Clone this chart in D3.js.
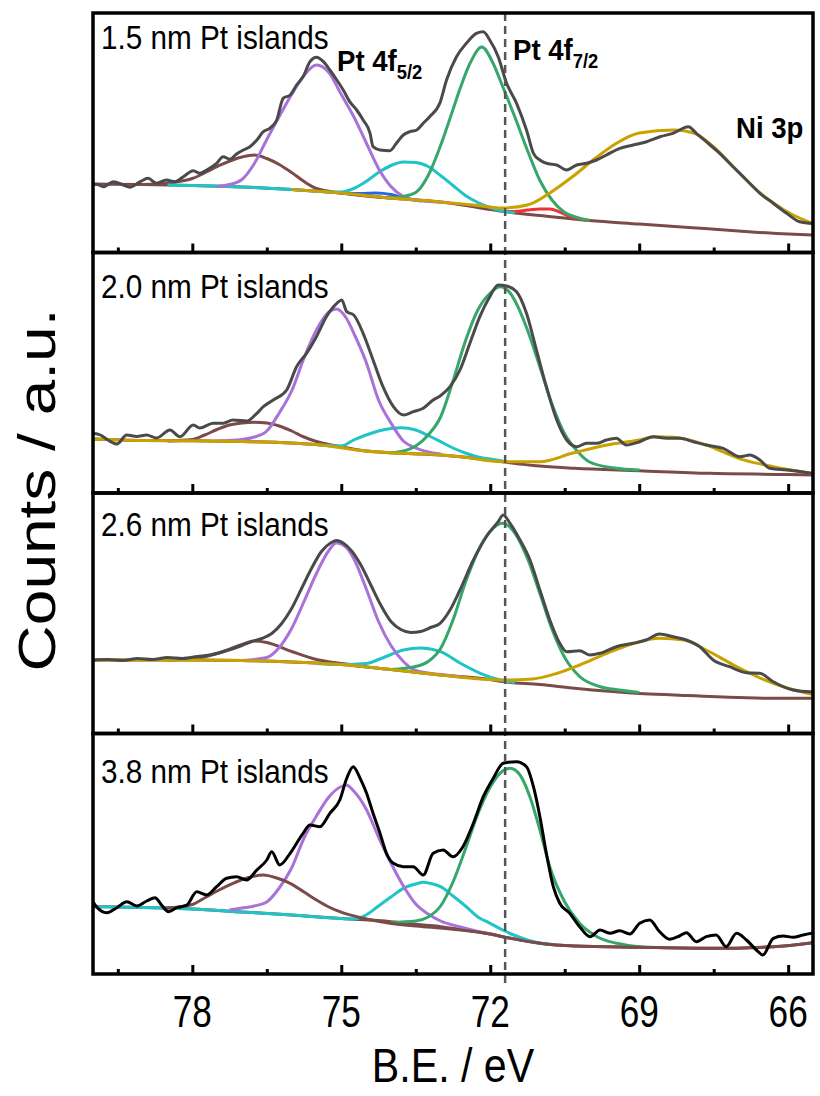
<!DOCTYPE html>
<html>
<head>
<meta charset="utf-8">
<script src="https://cdn.jsdelivr.net/npm/d3@7/dist/d3.min.js"></script>
<style>
  body { margin: 0; background: #fff; }
  svg text { font-family: "Liberation Sans", Arial, sans-serif; fill: #000; }
</style>
</head>
<body>
<div id="chart"></div>
<script>
// ---- data (binding energy in eV, counts in a.u.) ----
var xTicks = [78, 75, 72, 69, 66];
var xMinor = [79.5, 76.5, 73.5, 70.5, 67.5];
var panelLabels = ["1.5 nm Pt islands", "2.0 nm Pt islands", "2.6 nm Pt islands", "3.8 nm Pt islands"];
var refLine = 71.7;

// 1.5 nm
var p1Exp = [[80,68],[79.93,68.2],[79.79,65.8],[79.59,70.8],[79.39,67.5],[79.26,65.2],[79.05,70.8],[78.89,74.2],[78.72,69.2],[78.52,72.5],[78.35,70.8],[78.18,75.8],[77.98,81.8],[77.85,79.2],[77.71,82.5],[77.51,89.2],[77.38,95.8],[77.24,93.2],[77.11,98.5],[76.97,102.5],[76.84,105.8],[76.70,112.5],[76.57,120.8],[76.44,124.2],[76.30,132.5],[76.17,154.2],[76.03,157.5],[75.90,167.5],[75.77,175.8],[75.63,190.8],[75.50,195.2],[75.36,190.8],[75.23,182.5],[75.09,172.5],[74.96,162.5],[74.83,150.8],[74.69,142.5],[74.56,132.5],[74.42,119.2],[74.36,105.8],[74.22,102.5],[74.02,101.8],[73.89,109.2],[73.75,117.5],[73.62,120.8],[73.48,122.5],[73.35,129.2],[73.22,135.8],[73.01,150],[72.88,172.5],[72.68,195.8],[72.48,209.2],[72.28,219.2],[72.14,220.8],[72.01,212.5],[71.84,195.8],[71.67,169.2],[71.47,149.2],[71.27,122.5],[71.13,99.2],[71.0,92.5],[70.87,89.2],[70.66,87.5],[70.46,82.5],[70.26,87.5],[70.06,89.2],[69.86,92.5],[69.66,97.5],[69.39,104.2],[69.12,107.5],[68.85,110.8],[68.58,115.8],[68.32,119.2],[68.01,125.8],[67.85,119.2],[67.65,110.8],[67.38,99.2],[67.11,85.8],[66.84,72.5],[66.57,59.2],[66.30,49.2],[66.03,39.2],[65.77,30.8],[65.5,29]];
var p1Bg = [[80,68.5],[79,68],[78,67],[77,65.5],[76,63],[75,59.5],[74,54.5],[73,50.5],[72.5,47],[72,43],[71.5,39.5],[71,37],[70,32],[69,28.5],[68,25],[67,21.5],[66,18.5],[65.5,17.5]];
var p1Sat = [[79,68],[78.5,69.5],[78,74],[77.5,86],[77,95.5],[76.75,97.5],[76.5,94],[76.25,88],[76,80],[75.75,71],[75.5,64],[75,59.5],[74.5,56.5],[74,54.5]];
var p1Blue = [[75,59.5],[74.6,59],[74.3,59.5],[74,58],[73.7,54],[73.4,51.5]];
var p1Red = [[71.75,41],[71.5,41],[71.25,42.5],[71,43.5],[70.8,43.5],[70.6,40.5],[70.4,36],[70.2,33.5],[70,32]];
var p1Cyan = [[78.5,67.5],[78,67],[77,65.5],[76,63],[75.25,60.5],[75,60.5],[74.75,64],[74.5,71],[74.25,80],[74,87],[73.75,90.5],[73.5,90],[73.25,86],[73,77],[72.75,67],[72.5,57],[72.25,50],[72,45],[71.75,41.5],[71.5,39.5]];
var p1Pt52 = [[77.5,66],[77.25,68],[77,73],[76.75,89],[76.5,113],[76.25,136],[76,158],[75.75,177],[75.5,187.5],[75.25,180],[75,158],[74.75,136],[74.5,110],[74.25,84],[74,66],[73.75,56],[73.5,52.5],[73,50.5]];
var p1Pt72 = [[74,54.5],[73.75,56],[73.5,60],[73.25,77],[73,107],[72.9,121],[72.75,143],[72.6,165],[72.4,190],[72.17,205.5],[71.95,190],[71.75,166],[71.5,135],[71.25,102],[71,72],[70.75,52],[70.5,40],[70.25,35],[70,32]];
var p1Ni = [[76,63],[75,59.5],[74,54.5],[73,50.5],[72.35,47.5],[71.75,44.5],[71.25,47.5],[70.8,59.5],[70.35,75.5],[69.85,95.5],[69.45,109.5],[69,119.5],[68.3,122.5],[67.9,119.5],[67.5,105.5],[67.1,85.5],[66.7,65.5],[66.3,49.5],[65.9,37.5],[65.5,29]];

// 2.0 nm
var p2Exp = [[80.0,59.7],[79.85,58],[79.7,53],[79.52,49],[79.32,58],[79.12,56.5],[78.92,58],[78.72,55],[78.45,63],[78.25,56.3],[77.98,68],[77.85,65],[77.58,69.7],[77.38,69.7],[77.18,73],[76.9,72],[76.70,79.7],[76.57,86.3],[76.37,93],[76.10,103],[75.90,126.3],[75.70,139.7],[75.50,156.3],[75.30,176.3],[75.09,189.7],[74.99,193],[74.89,181.3],[74.75,178],[74.56,159.7],[74.36,133],[74.16,106.3],[73.95,86.3],[73.75,78],[73.55,81.3],[73.35,84.7],[73.15,93],[73.01,97],[72.81,106.3],[72.61,123],[72.41,149.7],[72.21,176.3],[72.01,196.3],[71.84,208],[71.67,207],[71.47,201.3],[71.27,179.7],[71.07,143],[70.87,106.3],[70.66,73],[70.46,53],[70.26,46.3],[70.06,49.7],[69.86,49.7],[69.66,53],[69.46,54.7],[69.26,48],[68.99,51.3],[68.72,56.3],[68.45,54.7],[68.18,54.7],[67.91,51.3],[67.65,48],[67.31,44.7],[66.97,36.3],[66.77,38],[66.57,33],[66.37,24.7],[66.03,23],[65.5,19.5]];
var p2Bg = [[80,54],[79,52.5],[78,52.3],[77,51.5],[76,50],[75.4,48],[75,46],[74.5,42],[74,40.3],[73.4,39],[73,38],[72.6,36.3],[72,33],[71.75,31.3],[71,27],[70.3,24.7],[69,22.3],[67.6,19.7],[66,18.5],[65.5,18]];
var p2Sat = [[78.5,52],[78,53.5],[77.75,58],[77.5,63.5],[77.25,68],[77,70],[76.75,70.7],[76.5,70],[76.25,67],[76,62],[75.75,56],[75.5,51.5],[75.25,48.5],[75,46.5]];
var p2Cyan = [[75.5,48.5],[75,47],[74.75,53],[74.5,58],[74.25,62],[74,64.5],[73.8,65.3],[73.5,63],[73.25,57.5],[73,51.3],[72.75,45],[72.5,40],[72.25,36],[72,34],[71.75,32]];
var p2Pt52 = [[77.5,52],[77,53.5],[76.75,56],[76.5,62],[76.25,80],[76,102],[75.75,135],[75.5,163],[75.25,181],[75.1,184],[74.9,175],[74.75,160],[74.5,131],[74.25,93],[74,70],[73.75,52],[73.5,45],[73,39]];
var p2Pt72 = [[74,40],[73.75,42],[73.5,47],[73.25,58],[73,76],[72.75,112],[72.5,152],[72.25,183],[72,200],[71.8,206.3],[71.6,200],[71.5,192],[71.25,163],[71,126],[70.75,88],[70.5,59],[70.25,42],[70,31],[69.5,25],[69,23]];
var p2Ni = [[80,54],[79,52.5],[78,52.3],[77,51.5],[76,50],[75.4,48],[74.7,43],[74,40.3],[73.35,39],[73,38],[72.6,36.3],[71.75,31.3],[71,31.3],[70.35,39.7],[69.65,48],[69,53],[68.7,56.3],[68.3,55.7],[67.65,48],[67,34.7],[66.3,26.3],[65.5,19.5]];

// 2.6 nm
var p3Exp = [[80,73.5],[79.7,74],[79.4,73],[79.1,75],[78.8,74],[78.5,76],[78.2,75],[77.9,77],[77.6,79],[77.3,83],[77.0,88],[76.8,92],[76.6,95],[76.4,100],[76.2,110],[76.0,125],[75.8,145],[75.6,165],[75.4,182],[75.2,191],[75.1,193],[74.95,190],[74.8,183],[74.6,168],[74.4,148],[74.2,128],[74.0,112],[73.8,104],[73.6,101],[73.4,102],[73.2,106],[73.01,110.2],[72.81,123.5],[72.61,143.5],[72.34,173.5],[72.08,196.8],[71.84,211.8],[71.74,218.5],[71.6,210.2],[71.4,193.5],[71.2,173.5],[71.0,143.5],[70.8,113.5],[70.6,90.2],[70.46,81.8],[70.2,82.8],[70.0,78.5],[69.79,80.2],[69.46,86.8],[69.12,90.2],[68.86,93.5],[68.59,99.5],[68.32,96.8],[68.05,93.5],[67.78,86.8],[67.51,73.5],[67.18,66.8],[66.84,60.8],[66.57,60.2],[66.30,51.8],[65.90,43.5],[65.5,41.5]];
var p3Bg = [[80,73.5],[78,73.5],[77,73],[76,71.5],[75,69],[74,64],[73,58.5],[72,54],[71.75,52],[71,49],[70.3,45.2],[69,40],[68.3,38.5],[67,36],[66.3,35.2],[65.5,35.2]];
var p3Sat = [[78.5,73.5],[78,74.5],[77.5,80],[77,89],[76.75,92.5],[76.5,91],[76,82],[75.5,74],[75,70],[74.5,67]];
var p3Cyan = [[75.5,70],[75,69],[74.5,70],[74.25,74],[74,79],[73.75,83.5],[73.4,85.5],[73,81.8],[72.6,70.2],[72.2,60.2],[71.8,53.5],[71.5,51]];
var p3Pt52 = [[77,73],[76.5,76],[76.25,86],[76,105],[75.75,132],[75.5,160],[75.25,183],[75.1,190.5],[74.9,186],[74.75,175],[74.5,145],[74.25,112],[74,88],[73.75,72],[73.5,63],[73,59],[72.5,56]];
var p3Pt72 = [[74,64],[73.5,67],[73.25,72],[73,85],[72.75,113.5],[72.5,151],[72.2,187],[71.95,205],[71.75,210.2],[71.55,203.5],[71.25,175],[71,140],[70.75,103.5],[70.5,76],[70.2,57],[69.8,47],[69.4,43.5],[69,41]];
var p3Ni = [[80,73.5],[78,73.5],[77,73],[76,71.5],[75,69],[74,64],[73,58.5],[72,54],[71.75,53.5],[71.15,54.5],[70.65,60.2],[70.2,68.5],[69.65,80.2],[69.1,90.2],[68.6,95.2],[68.1,93.5],[67.65,83.5],[67.1,68.5],[66.55,55.2],[66,45.2],[65.5,39]];

// 3.8 nm
var p4Exp = [[80,72.3],[79.93,67.3],[79.72,61.3],[79.52,66.3],[79.32,72.3],[79.12,68],[78.92,73],[78.75,76.3],[78.62,69],[78.48,62.3],[78.31,66.3],[78.11,69],[77.91,82.3],[77.71,79],[77.51,87.3],[77.31,95.7],[77.11,97.3],[76.91,94],[76.70,104],[76.50,114],[76.40,122.3],[76.24,109],[76.03,120.7],[75.77,140.7],[75.63,149],[75.43,147.3],[75.23,160.7],[75.03,174],[74.89,195.7],[74.76,207.3],[74.62,195.7],[74.49,180.7],[74.36,160.7],[74.22,140.7],[74.09,120.7],[73.95,110.7],[73.75,107.3],[73.55,107.3],[73.35,99],[73.15,120.7],[72.95,124],[72.75,117.3],[72.55,127.3],[72.34,150.7],[72.14,177.3],[71.94,195.7],[71.74,210.7],[71.47,212.3],[71.27,207.3],[71.13,187.3],[71.0,157.3],[70.87,120.7],[70.73,87.3],[70.6,70.7],[70.4,60.7],[70.2,47.3],[69.99,37.3],[69.79,44],[69.59,40.7],[69.39,43.3],[69.19,40],[68.99,50.7],[68.79,54],[68.59,42.3],[68.39,34.7],[68.19,38],[68.05,41.3],[67.85,32.3],[67.65,37.3],[67.45,39],[67.25,27.3],[67.04,40.7],[66.84,34],[66.64,24],[66.51,19],[66.30,35.7],[66.10,38],[65.90,36.7],[65.70,39],[65.5,41]];
var p4Bg = [[80,67.3],[79,66.5],[78,65],[77,62],[76,59],[75,55.5],[74,52.3],[73.35,49],[73,47.3],[72.5,44],[72,40],[71.75,37.3],[71,30.7],[70.3,28],[69,26.7],[67.6,25.7],[66.3,27.3],[65.5,31.3]];
var p4Cyan = [[80,67.3],[79,66.5],[78,65],[77,62],[76,59],[75,55.5],[74.75,55],[74.5,59],[74.25,68],[74,77],[73.75,85.7],[73.5,90],[73.35,91.7],[73.2,90.5],[73,87.3],[72.75,78],[72.5,68],[72.25,57],[72,50.7],[71.75,44],[71.5,38.5],[71.25,34],[71,31],[70.75,29.5]];
var p4Pt52 = [[77.25,64],[77,66],[76.75,68],[76.5,72],[76.25,86],[76,106],[75.75,136],[75.5,158],[75.25,177],[75,187.5],[74.9,189],[74.75,183],[74.5,165],[74.25,137],[74,111],[73.75,88],[73.5,70],[73.25,60],[73,53],[72.6,47],[72.2,42],[71.8,38]];
var p4Pt72 = [[74,51.5],[73.5,53],[73.25,57],[73,68],[72.75,92],[72.5,125],[72.25,160],[72,187],[71.75,203],[71.6,205.7],[71.4,199],[71.2,177],[71,144],[70.8,107],[70.5,72],[70.2,50.7],[69.85,37.3],[69.45,30.7],[69,27.3],[68.5,26.5]];
var p4Sat = [[78.6,65.8],[78.38,66.5],[78,69.5],[77.71,77.3],[77.5,83],[77.18,90.7],[76.9,96],[76.57,99],[76.3,96],[76.03,90.7],[75.75,82],[75.5,74],[75.25,67],[75.03,62.3],[74.56,55.7],[74.02,50.7],[73.35,47.3],[73,46],[72.6,44],[72,40],[71.75,37.3],[71,30.7],[70.3,28],[69,26.7],[67.6,25.7],[66.3,27.3],[65.5,31.3]];

// ---- styles ----
var col = {
  exp: "#4a4a4a", exp4: "#000000", bg: "#7b4b49", sat: "#7b4b49",
  pt52: "#a872d8", pt72: "#35a76a", ox: "#1fc4c8", ni: "#c9a100",
  red: "#ee3333", blue: "#2766e0"
};

var panels = [
  { label: panelLabels[0], exp: p1Exp, expColor: col.exp, fits: [
      [p1Bg, col.bg], [p1Sat, col.sat], [p1Blue, col.blue], [p1Red, col.red], [p1Cyan, col.ox],
      [p1Pt52, col.pt52], [p1Pt72, col.pt72], [p1Ni, col.ni]] },
  { label: panelLabels[1], exp: p2Exp, expColor: col.exp, fits: [
      [p2Bg, col.bg], [p2Sat, col.sat], [p2Cyan, col.ox], [p2Pt52, col.pt52], [p2Pt72, col.pt72], [p2Ni, col.ni]] },
  { label: panelLabels[2], exp: p3Exp, expColor: col.exp, fits: [
      [p3Bg, col.bg], [p3Sat, col.sat], [p3Cyan, col.ox], [p3Pt52, col.pt52], [p3Pt72, col.pt72], [p3Ni, col.ni]] },
  { label: panelLabels[3], exp: p4Exp, expColor: col.exp4, fits: [
      [p4Bg, col.bg], [p4Cyan, col.ox], [p4Pt52, col.pt52], [p4Pt72, col.pt72], [p4Sat, col.sat]] }
];

// ---- layout ----
var W = 820, H = 1096;
var left = 93, right = 813;
var tops = [13, 252.5, 493, 733.5],
    bottoms = [252.5, 493, 733.5, 974];
var labelY = [49, 298, 536, 783];

var svg = d3.select("#chart").append("svg")
    .attr("width", W).attr("height", H);

var x = d3.scaleLinear().domain([80, 65.5]).range([left, right]);

// text squeezed sideways like the original export
function label(px, py, size, sx) {
  return svg.append("text")
    .attr("transform", "translate(" + px + "," + py + ") scale(" + sx + ",1)")
    .attr("font-size", size);
}

panels.forEach(function(p, i) {
  var y = d3.scaleLinear().domain([0, 240]).range([bottoms[i], bottoms[i] - 240]);
  var line = d3.line()
      .x(function(d) { return x(d[0]); })
      .y(function(d) { return y(d[1]); })
      .curve(d3.curveMonotoneX);

  svg.append("clipPath").attr("id", "clip" + i)
    .append("rect")
      .attr("x", left).attr("y", tops[i])
      .attr("width", right - left).attr("height", bottoms[i] - tops[i]);

  var g = svg.append("g").attr("clip-path", "url(#clip" + i + ")");

  g.selectAll(".fit")
    .data(p.fits)
    .enter().append("path")
      .attr("class", "fit")
      .attr("d", function(d) { return line(d[0]); })
      .attr("fill", "none")
      .attr("stroke", function(d) { return d[1]; })
      .attr("stroke-width", 3)
      .attr("stroke-linejoin", "round");

  g.append("path")
    .attr("d", line(p.exp))
    .attr("fill", "none")
    .attr("stroke", p.expColor)
    .attr("stroke-width", 3)
    .attr("stroke-linejoin", "round");

  // inward ticks on the bottom edge
  svg.append("g")
    .attr("transform", "translate(0," + bottoms[i] + ")")
    .call(d3.axisBottom(x).tickValues(xTicks).tickSize(-9).tickFormat(""))
    .call(function(a) {
      a.select(".domain").remove();
      a.selectAll("line").attr("stroke", "#000").attr("stroke-width", 3);
    });
  svg.append("g")
    .attr("transform", "translate(0," + bottoms[i] + ")")
    .call(d3.axisBottom(x).tickValues(xMinor).tickSize(-5).tickFormat(""))
    .call(function(a) {
      a.select(".domain").remove();
      a.selectAll("line").attr("stroke", "#000").attr("stroke-width", 3);
    });

  label(101, labelY[i], 33, 0.9).text(p.label);
});

// reference line for Pt 4f7/2
svg.append("line")
  .attr("x1", x(refLine)).attr("x2", x(refLine))
  .attr("y1", tops[0]).attr("y2", 986)
  .attr("stroke", "#555").attr("stroke-width", 2.5)
  .attr("stroke-dasharray", "8,5");

// panel frames
tops.forEach(function(t, i) {
  svg.append("rect")
    .attr("x", left).attr("y", t)
    .attr("width", right - left).attr("height", bottoms[i] - t)
    .attr("fill", "none").attr("stroke", "#000").attr("stroke-width", 3.5);
});

// bottom tick labels
xTicks.forEach(function(v) {
  label(x(v), 1027, 44, 0.8).attr("text-anchor", "middle").text(d3.format("d")(v));
});

// axis titles
label((left + right) / 2, 1082, 49, 0.84).attr("text-anchor", "middle").text("B.E. / eV");

svg.append("text")
  .attr("transform", "translate(55,490) scale(0.82,1) rotate(-90)")
  .attr("text-anchor", "middle")
  .attr("font-size", 64)
  .text("Counts / a.u.");

// peak annotations
function peakLabel(px, py, main, sub) {
  var t = label(px, py, 30, 0.92).attr("font-weight", "bold");
  t.append("tspan").text(main);
  if (sub) t.append("tspan").attr("font-size", 20).attr("dy", 8).text(sub);
}
peakLabel(337, 71, "Pt 4f", "5/2");
peakLabel(513, 60, "Pt 4f", "7/2");
peakLabel(736, 138, "Ni 3p");
</script>
</body>
</html>
